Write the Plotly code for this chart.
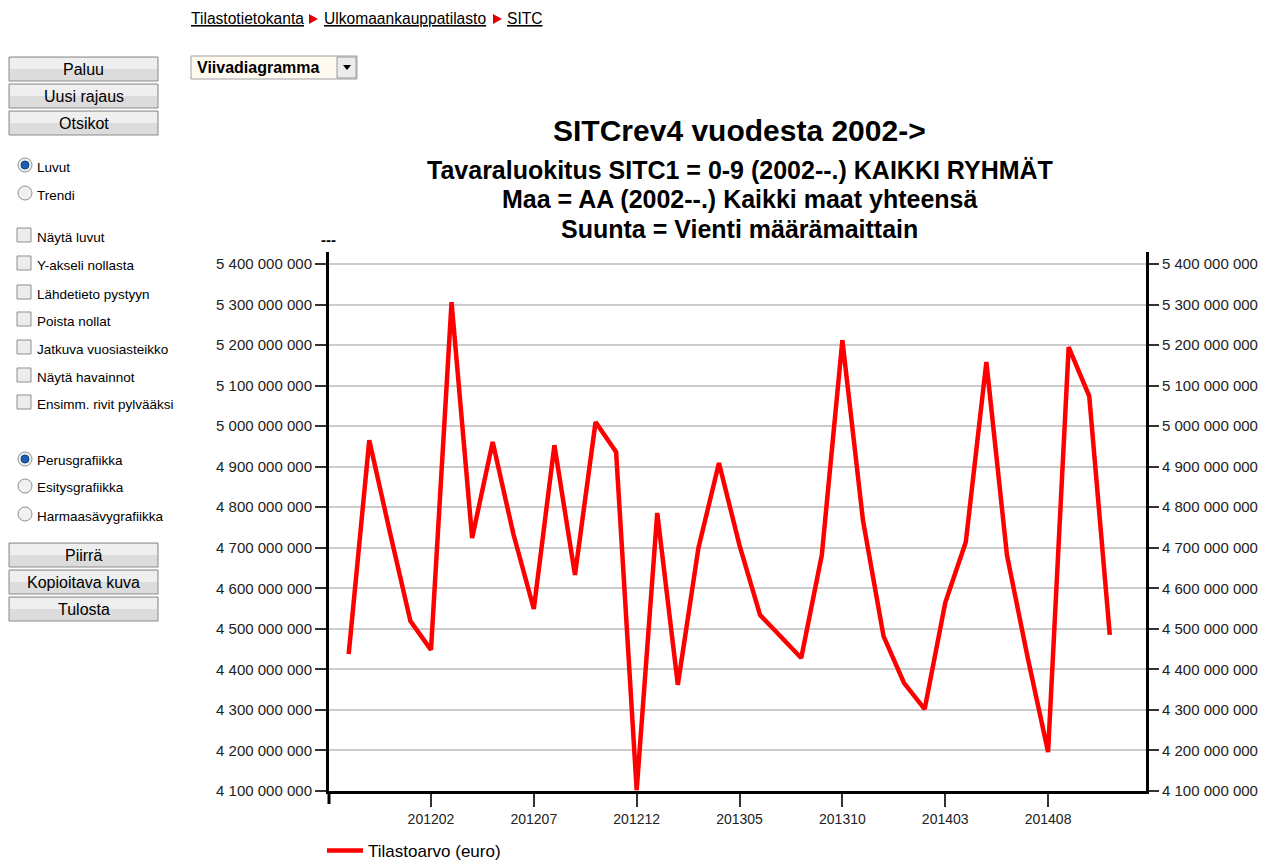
import plotly.graph_objects as go

# page body has an 8px margin around the figure
OFF = 8
W, H = 1273 - 2 * OFF, 864 - OFF

periods = ["201110", "201111", "201112", "201201", "201202", "201203", "201204",
           "201205", "201206", "201207", "201208", "201209", "201210", "201211",
           "201212", "201301", "201302", "201303", "201304", "201305", "201306",
           "201307", "201308", "201309", "201310", "201311", "201312", "201401",
           "201402", "201403", "201404", "201405", "201406", "201407", "201408",
           "201409", "201410", "201411"]
values = [4438e6, 4965e6, 4739e6, 4519e6, 4448e6, 5306e6, 4724e6,
          4961e6, 4735e6, 4549e6, 4953e6, 4633e6, 5010e6, 4936e6,
          4102e6, 4786e6, 4362e6, 4699e6, 4909e6, 4706e6, 4534e6,
          4480e6, 4428e6, 4682e6, 5212e6, 4768e6, 4482e6, 4366e6,
          4302e6, 4564e6, 4714e6, 5158e6, 4682e6, 4431e6, 4196e6,
          5195e6, 5074e6, 4485e6]
tick_periods = ["201202", "201207", "201212", "201305", "201310", "201403", "201408"]
series_name = "Tilastoarvo (euro)"

title_lines = ["SITCrev4 vuodesta 2002->",
               "Tavaraluokitus SITC1 = 0-9 (2002--.) KAIKKI RYHMÄT",
               "Maa = AA (2002--.) Kaikki maat yhteensä",
               "Suunta = Vienti määrämaittain"]
buttons_top = ["Paluu", "Uusi rajaus", "Otsikot"]
buttons_bottom = ["Piirrä", "Kopioitava kuva", "Tulosta"]
radios_1 = ["Luvut", "Trendi"]
checks = ["Näytä luvut", "Y-akseli nollasta", "Lähdetieto pystyyn", "Poista nollat",
          "Jatkuva vuosiasteikko", "Näytä havainnot", "Ensimm. rivit pylvääksi"]
radios_2 = ["Perusgrafiikka", "Esitysgrafiikka", "Harmaasävygrafiikka"]
crumbs = ["Tilastotietokanta", "Ulkomaankauppatilasto", "SITC"]

FONT = "Liberation Sans, Arial, sans-serif"


def X(p):
    return (p - OFF) / W


def Y(p):
    return 1 - (p - OFF) / H


Y0, Y1 = 4.1e9, 4.1e9 + (791 - 252) / 40.54 * 1e8
XL = (329 - 348.7) / 20.57
XR = (1146 - 348.7) / 20.57

fig = go.Figure()
fig.add_trace(go.Scatter(x=periods, y=values, mode="lines", name=series_name,
                         line=dict(color="#ff0000", width=4.5)))
fig.add_trace(go.Scatter(x=periods, y=values, mode="lines", yaxis="y2",
                         line=dict(color="rgba(0,0,0,0)", width=0),
                         showlegend=False, hoverinfo="skip"))

shapes = []
annotations = []

# titles
title_y = [130, 170, 199, 229]
title_sz = [30, 25, 25, 25]
for t, yy, sz in zip(title_lines, title_y, title_sz):
    annotations.append(dict(text="<b>%s</b>" % t, x=X(739.5), y=Y(yy), xref="paper",
                            yref="paper", showarrow=False, xanchor="center",
                            yanchor="middle", font=dict(size=sz, color="#000", family=FONT)))
annotations.append(dict(text="<b>---</b>", x=X(329), y=Y(240), xref="paper", yref="paper",
                        showarrow=False, xanchor="center", yanchor="middle",
                        font=dict(size=15, color="#000", family=FONT)))

# left y axis line extension below x axis
shapes.append(dict(type="line", xref="paper", yref="paper", x0=X(329), x1=X(329),
                   y0=Y(791), y1=Y(804), line=dict(color="#000", width=3)))

# breadcrumb
crumb_x = [189, 322, 505]
arrow_x = [309, 493]
for t, xx in zip(crumbs, crumb_x):
    annotations.append(dict(text="<u>%s</u>" % t, x=X(xx), y=Y(19), xref="paper",
                            yref="paper", showarrow=False, xanchor="left", yanchor="middle",
                            font=dict(size=15.6, color="#000", family=FONT)))
for ax in arrow_x:
    shapes.append(dict(type="path", xref="paper", yref="paper",
                       path="M %f %f L %f %f L %f %f Z" % (X(ax), Y(14), X(ax), Y(24), X(ax + 9), Y(19)),
                       fillcolor="#e00000", line=dict(width=0)))

# dropdown
shapes.append(dict(type="rect", xref="paper", yref="paper", x0=X(191), x1=X(357),
                   y0=Y(56), y1=Y(79), fillcolor="#fffaf0", line=dict(color="#a0a0a0", width=1)))
shapes.append(dict(type="rect", xref="paper", yref="paper", x0=X(337), x1=X(356),
                   y0=Y(57), y1=Y(78), fillcolor="#ececec", line=dict(color="#9a9a9a", width=1)))
shapes.append(dict(type="path", xref="paper", yref="paper",
                   path="M %f %f L %f %f L %f %f Z" % (X(343), Y(65), X(351), Y(65), X(347), Y(70)),
                   fillcolor="#000", line=dict(width=0)))
annotations.append(dict(text="<b>Viivadiagramma</b>", x=X(195), y=Y(68), xref="paper",
                        yref="paper", showarrow=False, xanchor="left", yanchor="middle",
                        font=dict(size=16, color="#000", family=FONT)))


def button(label, top):
    shapes.append(dict(type="rect", xref="paper", yref="paper", x0=X(9), x1=X(158),
                       y0=Y(top), y1=Y(top + 24), fillcolor="#dcdcdc",
                       line=dict(color="#8a8a8a", width=1)))
    shapes.append(dict(type="rect", xref="paper", yref="paper", x0=X(10), x1=X(157),
                       y0=Y(top + 1), y1=Y(top + 12), fillcolor="#efefef",
                       line=dict(width=0)))
    annotations.append(dict(text=label, x=X(83.5), y=Y(top + 12.5), xref="paper",
                            yref="paper", showarrow=False, xanchor="center", yanchor="middle",
                            font=dict(size=16, color="#000", family=FONT)))


for lab, top in zip(buttons_top, [57, 84, 111]):
    button(lab, top)
for lab, top in zip(buttons_bottom, [543, 570, 597]):
    button(lab, top)


def radio(label, ty, selected):
    cy = ty - 2
    shapes.append(dict(type="circle", xref="paper", yref="paper", x0=X(18), x1=X(32),
                       y0=Y(cy - 7), y1=Y(cy + 7), fillcolor="#f0f0f0",
                       line=dict(color="#8f8f8f", width=1)))
    if selected:
        shapes.append(dict(type="circle", xref="paper", yref="paper", x0=X(21), x1=X(29),
                           y0=Y(cy - 4), y1=Y(cy + 4), fillcolor="#1f5fb0",
                           line=dict(color="#12407a", width=1)))
    annotations.append(dict(text=label, x=X(35), y=Y(ty), xref="paper", yref="paper",
                            showarrow=False, xanchor="left", yanchor="middle",
                            font=dict(size=13.5, color="#000", family=FONT)))


def check(label, ty):
    cy = ty - 2
    shapes.append(dict(type="rect", xref="paper", yref="paper", x0=X(17), x1=X(31),
                       y0=Y(cy - 7), y1=Y(cy + 7), fillcolor="#ededed",
                       line=dict(color="#8f8f8f", width=1)))
    annotations.append(dict(text=label, x=X(35), y=Y(ty), xref="paper", yref="paper",
                            showarrow=False, xanchor="left", yanchor="middle",
                            font=dict(size=13.5, color="#000", family=FONT)))


for i, (lab, ty) in enumerate(zip(radios_1, [167, 195])):
    radio(lab, ty, i == 0)
for lab, ty in zip(checks, [237, 265, 294, 321, 349, 377, 404]):
    check(lab, ty)
for i, (lab, ty) in enumerate(zip(radios_2, [461, 488, 516])):
    radio(lab, ty, i == 0)

tickfont = dict(size=15, color="#222", family=FONT)

fig.update_layout(
    width=W, height=H, autosize=False,
    margin=dict(l=0, r=0, t=0, b=0, autoexpand=False),
    paper_bgcolor="white", plot_bgcolor="white",
    separators=". ",
    font=dict(family=FONT, color="#000"),
    xaxis=dict(domain=[X(329), X(1146)], type="category", range=[XL, XR],
               tickmode="array", tickvals=tick_periods, ticktext=tick_periods,
               ticks="outside", ticklen=13, tickwidth=2, tickcolor="#333",
               showline=True, linecolor="#000", linewidth=3, showgrid=False,
               zeroline=False, tickfont=dict(size=14, color="#222", family=FONT),
               automargin=False),
    yaxis=dict(domain=[Y(791), Y(252)], range=[Y0, Y1],
               tick0=4.1e9, dtick=1e8, tickformat=",d",
               ticks="outside", ticklen=11, tickwidth=2, tickcolor="#333",
               showline=True, linecolor="#000", linewidth=3,
               showgrid=True, gridcolor="#cccccc", gridwidth=2, zeroline=False,
               tickfont=tickfont, automargin=False),
    yaxis2=dict(overlaying="y", side="right", anchor="x", range=[Y0, Y1],
                tick0=4.1e9, dtick=1e8, tickformat=",d",
                ticks="outside", ticklen=10, tickwidth=2, tickcolor="#333",
                showline=True, linecolor="#000", linewidth=3,
                showgrid=False, zeroline=False, tickfont=tickfont, automargin=False),
    showlegend=True,
    legend=dict(x=X(322), xanchor="left", y=Y(851), yanchor="middle",
                orientation="h", bgcolor="rgba(0,0,0,0)", itemwidth=36,
                font=dict(size=17, color="#000", family=FONT)),
    shapes=shapes,
    annotations=annotations,
)

fig.write_html("out.html")
